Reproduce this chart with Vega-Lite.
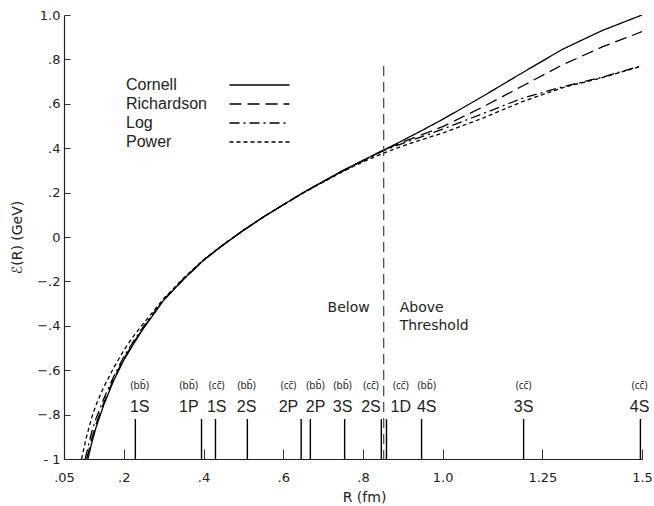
{
  "$schema": "https://vega.github.io/schema/vega-lite/v6.json",
  "width": 578,
  "height": 444,
  "autosize": "none",
  "padding": {"left": 64, "top": 15, "right": 12, "bottom": 47},
  "background": "white",
  "config": {
    "view": {"stroke": null},
    "font": "DejaVu Sans",
    "axis": {
      "grid": false,
      "domainColor": "#222",
      "domainWidth": 1.2,
      "tickColor": "#333",
      "tickWidth": 1,
      "labelColor": "#222",
      "titleColor": "#222",
      "labelFont": "DejaVu Sans",
      "titleFont": "DejaVu Sans",
      "labelFontSize": 13,
      "titleFontSize": 14,
      "titleFontWeight": "normal"
    },
    "text": {"font": "DejaVu Sans", "color": "#222"}
  },
  "datasets": {
    "curves": [
      {"model": "Cornell", "R": 0.11, "E": -1.0},
      {"model": "Cornell", "R": 0.12, "E": -0.925},
      {"model": "Cornell", "R": 0.13, "E": -0.86},
      {"model": "Cornell", "R": 0.15, "E": -0.755},
      {"model": "Cornell", "R": 0.175, "E": -0.645},
      {"model": "Cornell", "R": 0.2, "E": -0.555},
      {"model": "Cornell", "R": 0.225, "E": -0.48},
      {"model": "Cornell", "R": 0.25, "E": -0.41},
      {"model": "Cornell", "R": 0.3, "E": -0.285},
      {"model": "Cornell", "R": 0.35, "E": -0.19},
      {"model": "Cornell", "R": 0.4, "E": -0.105},
      {"model": "Cornell", "R": 0.45, "E": -0.035},
      {"model": "Cornell", "R": 0.5, "E": 0.03},
      {"model": "Cornell", "R": 0.55, "E": 0.09},
      {"model": "Cornell", "R": 0.6, "E": 0.145},
      {"model": "Cornell", "R": 0.65, "E": 0.2},
      {"model": "Cornell", "R": 0.7, "E": 0.25},
      {"model": "Cornell", "R": 0.75, "E": 0.3},
      {"model": "Cornell", "R": 0.8, "E": 0.345},
      {"model": "Cornell", "R": 0.85, "E": 0.39},
      {"model": "Cornell", "R": 0.9, "E": 0.435},
      {"model": "Cornell", "R": 0.95, "E": 0.482},
      {"model": "Cornell", "R": 1.0, "E": 0.53},
      {"model": "Cornell", "R": 1.1, "E": 0.633},
      {"model": "Cornell", "R": 1.2, "E": 0.74},
      {"model": "Cornell", "R": 1.3, "E": 0.845},
      {"model": "Cornell", "R": 1.4, "E": 0.93},
      {"model": "Cornell", "R": 1.5, "E": 1.0},

      {"model": "Richardson", "R": 0.107, "E": -1.0},
      {"model": "Richardson", "R": 0.12, "E": -0.905},
      {"model": "Richardson", "R": 0.13, "E": -0.845},
      {"model": "Richardson", "R": 0.15, "E": -0.745},
      {"model": "Richardson", "R": 0.175, "E": -0.638},
      {"model": "Richardson", "R": 0.2, "E": -0.548},
      {"model": "Richardson", "R": 0.225, "E": -0.475},
      {"model": "Richardson", "R": 0.25, "E": -0.407},
      {"model": "Richardson", "R": 0.3, "E": -0.284},
      {"model": "Richardson", "R": 0.35, "E": -0.19},
      {"model": "Richardson", "R": 0.4, "E": -0.105},
      {"model": "Richardson", "R": 0.45, "E": -0.035},
      {"model": "Richardson", "R": 0.5, "E": 0.03},
      {"model": "Richardson", "R": 0.55, "E": 0.09},
      {"model": "Richardson", "R": 0.6, "E": 0.145},
      {"model": "Richardson", "R": 0.65, "E": 0.2},
      {"model": "Richardson", "R": 0.7, "E": 0.25},
      {"model": "Richardson", "R": 0.75, "E": 0.299},
      {"model": "Richardson", "R": 0.8, "E": 0.344},
      {"model": "Richardson", "R": 0.85, "E": 0.389},
      {"model": "Richardson", "R": 0.9, "E": 0.428},
      {"model": "Richardson", "R": 0.95, "E": 0.462},
      {"model": "Richardson", "R": 1.0, "E": 0.497},
      {"model": "Richardson", "R": 1.1, "E": 0.585},
      {"model": "Richardson", "R": 1.2, "E": 0.68},
      {"model": "Richardson", "R": 1.3, "E": 0.775},
      {"model": "Richardson", "R": 1.4, "E": 0.856},
      {"model": "Richardson", "R": 1.5, "E": 0.925},

      {"model": "Log", "R": 0.103, "E": -1.0},
      {"model": "Log", "R": 0.12, "E": -0.875},
      {"model": "Log", "R": 0.13, "E": -0.82},
      {"model": "Log", "R": 0.15, "E": -0.727},
      {"model": "Log", "R": 0.175, "E": -0.627},
      {"model": "Log", "R": 0.2, "E": -0.54},
      {"model": "Log", "R": 0.225, "E": -0.468},
      {"model": "Log", "R": 0.25, "E": -0.402},
      {"model": "Log", "R": 0.3, "E": -0.282},
      {"model": "Log", "R": 0.35, "E": -0.188},
      {"model": "Log", "R": 0.4, "E": -0.104},
      {"model": "Log", "R": 0.45, "E": -0.034},
      {"model": "Log", "R": 0.5, "E": 0.03},
      {"model": "Log", "R": 0.55, "E": 0.09},
      {"model": "Log", "R": 0.6, "E": 0.145},
      {"model": "Log", "R": 0.65, "E": 0.199},
      {"model": "Log", "R": 0.7, "E": 0.249},
      {"model": "Log", "R": 0.75, "E": 0.298},
      {"model": "Log", "R": 0.8, "E": 0.343},
      {"model": "Log", "R": 0.85, "E": 0.388},
      {"model": "Log", "R": 0.9, "E": 0.422},
      {"model": "Log", "R": 0.95, "E": 0.453},
      {"model": "Log", "R": 1.0, "E": 0.486},
      {"model": "Log", "R": 1.1, "E": 0.555},
      {"model": "Log", "R": 1.2, "E": 0.625},
      {"model": "Log", "R": 1.3, "E": 0.676},
      {"model": "Log", "R": 1.4, "E": 0.72},
      {"model": "Log", "R": 1.5, "E": 0.772},

      {"model": "Power", "R": 0.094, "E": -1.0},
      {"model": "Power", "R": 0.105, "E": -0.91},
      {"model": "Power", "R": 0.12, "E": -0.81},
      {"model": "Power", "R": 0.13, "E": -0.758},
      {"model": "Power", "R": 0.15, "E": -0.675},
      {"model": "Power", "R": 0.175, "E": -0.588},
      {"model": "Power", "R": 0.2, "E": -0.51},
      {"model": "Power", "R": 0.225, "E": -0.445},
      {"model": "Power", "R": 0.25, "E": -0.388},
      {"model": "Power", "R": 0.3, "E": -0.278},
      {"model": "Power", "R": 0.35, "E": -0.185},
      {"model": "Power", "R": 0.4, "E": -0.102},
      {"model": "Power", "R": 0.45, "E": -0.033},
      {"model": "Power", "R": 0.5, "E": 0.03},
      {"model": "Power", "R": 0.55, "E": 0.09},
      {"model": "Power", "R": 0.6, "E": 0.145},
      {"model": "Power", "R": 0.65, "E": 0.198},
      {"model": "Power", "R": 0.7, "E": 0.247},
      {"model": "Power", "R": 0.75, "E": 0.295},
      {"model": "Power", "R": 0.8, "E": 0.338},
      {"model": "Power", "R": 0.85, "E": 0.377},
      {"model": "Power", "R": 0.9, "E": 0.41},
      {"model": "Power", "R": 0.95, "E": 0.44},
      {"model": "Power", "R": 1.0, "E": 0.468},
      {"model": "Power", "R": 1.1, "E": 0.535},
      {"model": "Power", "R": 1.2, "E": 0.61},
      {"model": "Power", "R": 1.3, "E": 0.672},
      {"model": "Power", "R": 1.4, "E": 0.718},
      {"model": "Power", "R": 1.5, "E": 0.77}
    ],
    "states": [
      {"pair": "(bb\u0304)", "state": "1S", "R": 0.229, "labelR": 0.24},
      {"pair": "(bb\u0304)", "state": "1P", "R": 0.395, "labelR": 0.363},
      {"pair": "(cc\u0304)", "state": "1S", "R": 0.43, "labelR": 0.433},
      {"pair": "(bb\u0304)", "state": "2S", "R": 0.51, "labelR": 0.508},
      {"pair": "(cc\u0304)", "state": "2P", "R": 0.645, "labelR": 0.613},
      {"pair": "(bb\u0304)", "state": "2P", "R": 0.668, "labelR": 0.681},
      {"pair": "(bb\u0304)", "state": "3S", "R": 0.754, "labelR": 0.749},
      {"pair": "(cc\u0304)", "state": "2S", "R": 0.846, "labelR": 0.82},
      {"pair": "(cc\u0304)", "state": "1D", "R": 0.859, "labelR": 0.895},
      {"pair": "(bb\u0304)", "state": "4S", "R": 0.947, "labelR": 0.96},
      {"pair": "(cc\u0304)", "state": "3S", "R": 1.203, "labelR": 1.203},
      {"pair": "(cc\u0304)", "state": "4S", "R": 1.496, "labelR": 1.494}
    ],
    "threshold": [{"R": 0.852}]
  },
  "layer": [
    {
      "data": {"name": "curves"},
      "mark": {"type": "line", "color": "black", "strokeWidth": 1.3, "clip": true},
      "encoding": {
        "x": {
          "field": "R", "type": "quantitative",
          "scale": {"domain": [0.05, 1.5], "nice": false, "zero": false},
          "axis": {
            "title": "R (fm)",
            "values": [0.05, 0.2, 0.4, 0.6, 0.8, 1.0, 1.25, 1.5],
            "labelExpr": "datum.value == 1 ? '1.0' : (datum.value < 1 ? replace(format(datum.value, '~g'), '0.', '.') : format(datum.value, '~g'))",
            "tickSize": -10,
            "labelPadding": 22,
            "titlePadding": 6,
            "titleX": 300,
            "labelFlush": false
          }
        },
        "y": {
          "field": "E", "type": "quantitative",
          "scale": {"domain": [-1, 1], "nice": false, "zero": false},
          "axis": {
            "title": "\u2130(R) (GeV)",
            "values": [-1, -0.8, -0.6, -0.4, -0.2, 0, 0.2, 0.4, 0.6, 0.8, 1],
            "labelExpr": "datum.value == 1 ? '1.0' : (datum.value == 0 ? '0' : (datum.value == -1 ? '- 1' : replace(format(datum.value, '.1f'), '0.', '.')))",
            "tickSize": -6,
            "labelPadding": 10,
            "titlePadding": 12,
            "labelFlush": false
          }
        },
        "strokeDash": {
          "field": "model", "type": "nominal",
          "scale": {
            "domain": ["Cornell", "Richardson", "Log", "Power"],
            "range": [[1, 0], [12, 6], [10, 4, 2, 4], [4, 3]]
          },
          "legend": {
            "title": null,
            "orient": "none",
            "legendX": 187.5,
            "legendY": 62,
            "padding": 0,
            "symbolType": "M-6,0H6",
            "symbolSize": 100,
            "symbolStrokeColor": "black",
            "symbolStrokeWidth": 1.3,
            "symbolFillColor": "transparent",
            "labelOffset": -141.5,
            "labelAlign": "left",
            "labelFontSize": 16,
            "labelFont": "Liberation Sans",
            "labelColor": "#222",
            "rowPadding": 3
          }
        },
        "order": {"field": "R", "type": "quantitative"}
      }
    },
    {
      "data": {"name": "states"},
      "mark": {"type": "rule", "color": "black", "strokeWidth": 1.4},
      "encoding": {
        "x": {"field": "R", "type": "quantitative"},
        "y": {"datum": -1, "type": "quantitative"},
        "y2": {"datum": -0.82}
      }
    },
    {
      "data": {"name": "states"},
      "mark": {"type": "text", "font": "Noto Sans", "fontSize": 10, "baseline": "middle", "align": "center"},
      "encoding": {
        "x": {"field": "labelR", "type": "quantitative"},
        "y": {"datum": -0.672, "type": "quantitative"},
        "text": {"field": "pair"}
      }
    },
    {
      "data": {"name": "states"},
      "mark": {"type": "text", "font": "Liberation Sans", "fontSize": 16, "baseline": "middle", "align": "center"},
      "encoding": {
        "x": {"field": "labelR", "type": "quantitative"},
        "y": {"datum": -0.765, "type": "quantitative"},
        "text": {"field": "state"}
      }
    },
    {
      "data": {"name": "threshold"},
      "mark": {"type": "rule", "color": "#444", "strokeWidth": 1.2, "strokeDash": [10, 6]},
      "encoding": {
        "x": {"field": "R", "type": "quantitative"},
        "y": {"datum": 0.77, "type": "quantitative"},
        "y2": {"datum": -1}
      }
    },
    {
      "data": {"name": "threshold"},
      "mark": {"type": "text", "fontSize": 14, "align": "right", "baseline": "middle", "dx": -14},
      "encoding": {
        "x": {"field": "R", "type": "quantitative"},
        "y": {"datum": -0.32, "type": "quantitative"},
        "text": {"value": "Below"}
      }
    },
    {
      "data": {"name": "threshold"},
      "mark": {"type": "text", "fontSize": 14, "align": "left", "baseline": "middle", "dx": 16, "lineBreak": "\n", "lineHeight": 18},
      "encoding": {
        "x": {"field": "R", "type": "quantitative"},
        "y": {"datum": -0.32, "type": "quantitative"},
        "text": {"value": "Above\nThreshold"}
      }
    }
  ]
}
